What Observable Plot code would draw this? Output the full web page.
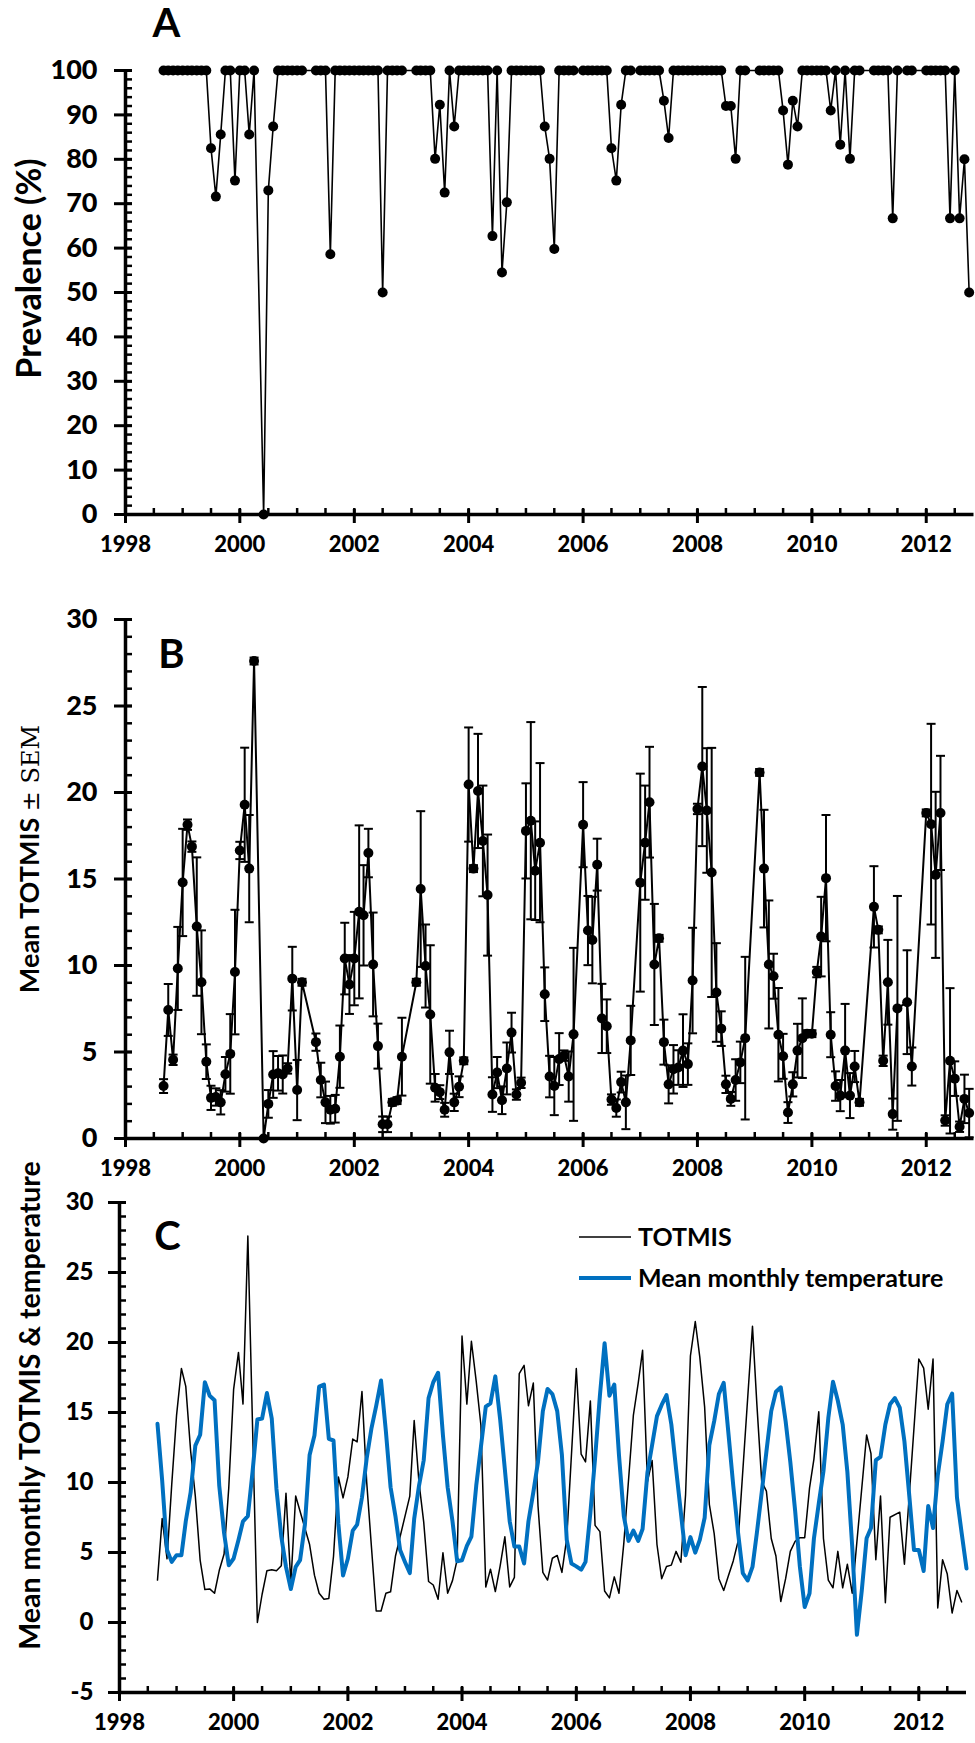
<!DOCTYPE html>
<html>
<head>
<meta charset="utf-8">
<script src="https://cdn.jsdelivr.net/npm/d3@7"></script>
<script src="https://cdn.jsdelivr.net/npm/@observablehq/plot@0.6"></script>
<style>
  body { margin: 0; background: #fff; }
  #figure { position: relative; width: 975px; height: 1743px; font-family: Lato, sans-serif; }
  #figure > svg { position: absolute; left: 0; }
</style>
</head>
<body>
<div id="figure"></div>
<script>
// Sampling months, listed as runs of consecutive months (first, last)
const samplingRuns = [
  ["1998-09", "2000-04"], ["2000-06", "2001-02"], ["2001-05", "2002-11"],
  ["2003-02", "2005-11"], ["2006-01", "2006-11"], ["2007-01", "2008-11"],
  ["2009-02", "2010-11"], ["2011-02", "2011-07"], ["2011-09", "2011-10"],
  ["2012-01", "2012-10"]
];

// Prevalence (%) for each sampling month
const prevalence = [
  100, 100, 100, 100, 100, 100, 100, 100, 100, 100, 82.5, 71.6, 85.6, 100, 100, 75.2, 100, 100, 85.6, 100,
  0, 73, 87.4, 100, 100, 100, 100, 100, 100,
  100, 100, 100, 58.6, 100, 100, 100, 100, 100, 100, 100, 100, 100, 100, 50, 100, 100, 100, 100,
  100, 100, 100, 100, 80.1, 92.3, 72.5, 100, 87.4, 100, 100, 100, 100, 100, 100, 100, 62.7, 100, 54.5, 70.3,
  100, 100, 100, 100, 100, 100, 100, 87.4, 80.1, 59.8, 100, 100, 100, 100,
  100, 100, 100, 100, 100, 100, 82.5, 75.2, 92.3, 100, 100,
  100, 100, 100, 100, 100, 93.2, 84.8, 100, 100, 100, 100, 100, 100, 100, 100, 100, 100, 100, 92, 92, 80.1, 100, 100,
  100, 100, 100, 100, 100, 91, 78.8, 93.2, 87.4, 100, 100, 100, 100, 100, 100, 91, 100, 83.3, 100, 80.1, 100, 100,
  100, 100, 100, 100, 66.7, 100,
  100, 100,
  100, 100, 100, 100, 100, 66.7, 100, 66.7, 80, 50
];

// Mean TOTMIS for each sampling month
const totmis = [
  3.03, 7.43, 4.55, 9.83, 14.8, 18.14, 16.87, 12.25, 9.03, 4.44, 2.35, 2.4, 2.09, 3.71, 4.89, 9.62, 16.65, 19.29, 15.6, 27.6,
  0, 2.0, 3.7, 3.77, 3.7, 4.05, 9.24, 2.8, 9.03,
  5.57, 3.38, 2.09, 1.66, 1.72, 4.73, 10.4, 8.9, 10.4, 13.1, 12.9, 16.5, 10.06, 5.34, 0.82, 0.82, 2.09, 2.19, 4.73,
  9.03, 14.42, 9.97, 7.17, 2.93, 2.68, 1.66, 4.98, 2.09, 2.99, 4.49, 20.46, 15.6, 20.09, 17.2, 14.07, 2.54, 3.81, 2.21, 4.05,
  6.12, 2.54, 3.22, 17.78, 18.37, 15.48, 17.1, 8.34, 3.58, 3.03, 4.59, 4.79, 3.58, 6.02,
  18.14, 12.02, 11.47, 15.83, 6.94, 6.49, 2.25, 1.76, 3.26, 2.09, 5.67,
  14.79, 17.1, 19.44, 10.06, 11.57, 5.57, 3.13, 4.0, 4.1, 5.08, 4.3, 9.13, 19.05, 21.5, 18.96, 15.38, 8.44, 6.35, 3.13, 2.29, 3.38, 4.4, 5.8,
  21.16, 15.6, 10.06, 9.38, 6.0, 4.75, 1.5, 3.13, 5.08, 5.8, 6.06, 6.06, 9.62, 11.67, 15.05, 6.0, 3.03, 2.48, 5.08, 2.48, 4.16, 2.09,
  13.39, 12.06, 4.49, 9.03, 1.41, 7.52,
  7.88, 4.16,
  18.82, 18.17, 15.24, 18.82, 1.04, 4.49, 3.46, 0.68, 2.29, 1.47
];

// Standard error of the mean TOTMIS
const totmisSem = [
  0.4, 1.5, 0.3, 2.4, 3.1, 0.3, 0.3, 4.0, 3.0, 1.0, 0.7, 0.5, 0.7, 1.0, 2.3, 3.6, 0.5, 3.3, 3.1, 0.2,
  0, 0.8, 1.35, 1.0, 1.1, 0.3, 1.84, 1.74, 0.2,
  0.5, 1.0, 1.2, 0.8, 0.8, 1.8, 2.07, 1.7, 2.7, 5.0, 2.9, 1.4, 3.0, 1.3, 0.45, 0.45, 0.2, 0.2, 2.25,
  0.2, 4.5, 2.4, 4.0, 0.8, 0.4, 0.4, 1.25, 0.5, 0.6, 0.2, 3.3, 0.2, 3.3, 3.2, 3.5, 1.0, 0.9, 0.8, 1.5,
  1.15, 0.3, 0.3, 2.75, 5.7, 2.85, 4.6, 1.55, 1.2, 1.68, 1.5, 0.3, 1.45, 5.0,
  2.46, 2.0, 2.5, 1.5, 2.0, 1.55, 0.3, 0.5, 0.6, 1.55, 2.0,
  6.3, 3.3, 3.2, 3.5, 0.2, 1.3, 1.1, 1.4, 1.0, 2.1, 1.2, 3.05, 0.3, 4.6, 3.6, 7.2, 2.85, 1.0, 0.5, 0.4, 1.2, 1.2, 4.7,
  0.2, 3.4, 3.7, 1.3, 2.7, 1.3, 0.6, 0.7, 1.55, 2.3, 0.2, 0.2, 0.3, 2.3, 3.65, 1.3, 0.85, 0.9, 2.7, 1.3, 0.9, 0.2,
  2.35, 0.2, 0.3, 2.45, 0.9, 6.5,
  3.0, 1.1,
  0.2, 5.8, 4.8, 3.3, 0.3, 4.2, 1.0, 0.3, 1.4, 1.4
];

// Mean monthly temperature (°C), every month from the first to the last listed
const temperatureMonths = ["1998-09", "2012-11"];
const temperature = [
  14.19, 10.14, 5.18, 4.33, 4.81, 4.81, 7.23, 9.29, 12.63, 13.41,
  17.16, 16.2, 15.88, 9.78, 6.39, 4.09, 4.57, 5.9, 7.23, 7.6,
  10.75, 14.5, 14.57, 16.39, 14.57, 9.54, 6.14, 3.97, 2.39, 3.97,
  4.45, 6.99, 11.96, 13.36, 16.85, 17.0, 13.12, 13.0, 7.06, 3.36,
  4.57, 6.56, 6.99, 8.93, 11.71, 13.89, 15.47, 17.28, 13.65, 9.66,
  7.6, 5.18, 4.33, 3.53, 7.4, 9.78, 11.59, 16.03, 17.16, 17.84,
  13.36, 9.66, 7.23, 4.38, 4.45, 5.47, 6.14, 9.78, 12.56, 15.42,
  15.66, 17.58, 14.5, 10.94, 7.23, 5.42, 5.42, 4.21, 7.23, 9.29,
  11.47, 15.1, 16.68, 16.32, 15.1, 11.96, 5.9, 4.21, 4.01, 3.77,
  4.33, 7.84, 11.71, 16.2, 19.95, 16.2, 17.0, 11.96, 7.6, 5.83,
  6.56, 5.83, 6.68, 10.7, 12.68, 14.74, 15.54, 16.24, 14.14, 11.0,
  7.84, 4.81, 6.1, 4.99, 5.9, 7.48, 12.68, 14.38, 16.32, 17.12,
  13.41, 9.78, 6.39, 3.53, 3.0, 3.97, 6.39, 9.29, 12.2, 15.1,
  16.48, 16.8, 14.38, 11.47, 7.96, 4.0, 1.11, 2.08, 6.0, 8.5,
  10.8, 14.6, 17.2, 15.84, 14.14, 10.75, 5.42, -0.88, 2.27, 6.02,
  6.75, 11.59, 11.83, 14.14, 15.59, 16.03, 15.35, 12.93, 9.05, 5.18,
  5.18, 3.68, 8.32, 6.75, 10.5, 12.93, 15.59, 16.36, 8.93, 6.39, 3.85
];

// Axis tick values
const xStart = "1998-01", xEnd = "2012-11";
const prevalenceTicks = [0, 10, 20, 30, 40, 50, 60, 70, 80, 90, 100];
const totmisTicks = [0, 5, 10, 15, 20, 25, 30];
const combinedTicks = [-5, 0, 5, 10, 15, 20, 25, 30];

const parseMonth = d3.utcParse("%Y-%m");
const monthsBetween = (a, b) => d3.utcMonth.range(parseMonth(a), d3.utcMonth.offset(parseMonth(b), 1));

const sampleDates = samplingRuns.flatMap(([a, b]) => monthsBetween(a, b));
const samples = sampleDates.map((date, i) => ({
  date, prevalence: prevalence[i], totmis: totmis[i], sem: totmisSem[i]
}));
const temps = monthsBetween(...temperatureMonths).map((date, i) => ({date, temperature: temperature[i]}));

const xDomain = [parseMonth(xStart), parseMonth(xEnd)];
const evenYears = d3.utcYear.every(2).range(xDomain[0], xDomain[1]);
const halfYears = d3.utcMonth.every(6).range(xDomain[0], xDomain[1]);
const range = (lo, hi, step) => d3.range(lo, hi + step / 2, step);

// A short horizontal stroke used as error-bar caps
const capSymbol = {
  draw(context, size) {
    const r = Math.sqrt(size / Math.PI);
    context.moveTo(-r, 0);
    context.lineTo(r, 0);
  }
};

// Excel-style frame: thick axis lines, crossing major ticks, inner minor ticks
function frame({yMin, yMajor, yMinor, yPad, yFont}) {
  return [
    Plot.axisX(halfYears, {tickSize: -6, strokeWidth: 2.5, tickFormat: () => "", label: null}),
    Plot.axisX(evenYears, {tickSize: -5, strokeWidth: 3, tickFormat: () => "", label: null}),
    Plot.axisX(evenYears, {tickSize: 9, tickPadding: 13, strokeWidth: 3, tickFormat: "%Y", label: null,
      fontSize: 22, fontWeight: 900}),
    Plot.axisY(yMinor, {tickSize: -7, strokeWidth: 2.5, tickFormat: () => "", label: null}),
    Plot.axisY(yMajor, {tickSize: -7, strokeWidth: 3, tickFormat: () => "", label: null}),
    Plot.axisY(yMajor, {tickSize: 11, tickPadding: yPad, strokeWidth: 3, tickFormat: d => String(d), label: null,
      fontSize: yFont, fontWeight: 900}),
    Plot.ruleY([yMin], {strokeWidth: 3.5}),
    Plot.ruleX([xDomain[0]], {strokeWidth: 3.5})
  ];
}

const baseStyle = {fontFamily: "Lato, sans-serif", color: "black", background: "white", overflow: "visible"};
const figure = document.getElementById("figure");

// Panel A: prevalence
const chartA = Plot.plot({
  width: 975, height: 575,
  marginLeft: 125, marginRight: 1.5, marginTop: 70, marginBottom: 61,
  x: {type: "utc", domain: xDomain, label: null},
  y: {domain: [0, 100], label: null},
  style: baseStyle,
  marks: [
    ...frame({yMin: 0, yMajor: prevalenceTicks, yMinor: range(0, 100, 2), yPad: 17, yFont: 27}),
    Plot.line(samples, {x: "date", y: "prevalence", stroke: "black", strokeWidth: 1.6}),
    Plot.dot(samples, {x: "date", y: "prevalence", r: 5, fill: "black"}),
    Plot.text(["Prevalence (%)"], {frameAnchor: "left", rotate: -90, dx: -95, dy: -24,
      fontSize: 34, fontWeight: 700, textAnchor: "middle"}),
    Plot.text(["A"], {frameAnchor: "top-left", dx: 41, dy: -46, fontSize: 40, fontWeight: 700,
      textAnchor: "middle", lineAnchor: "middle"})
  ]
});
chartA.style.top = "0px";
figure.append(chartA);

// Panel B: mean TOTMIS with SEM error bars
const chartB = Plot.plot({
  width: 975, height: 610,
  marginLeft: 125, marginRight: 1.5, marginTop: 44, marginBottom: 47,
  x: {type: "utc", domain: xDomain, label: null},
  y: {domain: [0, 30], label: null},
  style: baseStyle,
  marks: [
    ...frame({yMin: 0, yMajor: totmisTicks, yMinor: range(0, 30, 1), yPad: 17, yFont: 27}),
    Plot.line(samples, {x: "date", y: "totmis", stroke: "black", strokeWidth: 2}),
    Plot.ruleX(samples, {x: "date", y1: d => Math.max(0, d.totmis - d.sem), y2: d => d.totmis + d.sem,
      stroke: "black", strokeWidth: 2}),
    Plot.dot(samples, {x: "date", y: d => d.totmis + d.sem, symbol: capSymbol, r: 4.5,
      stroke: "black", strokeWidth: 2, fill: "none"}),
    Plot.dot(samples, {x: "date", y: d => Math.max(0, d.totmis - d.sem), symbol: capSymbol, r: 4.5,
      stroke: "black", strokeWidth: 2, fill: "none"}),
    Plot.dot(samples, {x: "date", y: "totmis", r: 5, fill: "black"}),
    Plot.text(["Mean TOTMIS ± SEM"], {frameAnchor: "left", rotate: -90, dx: -95, dy: -20,
      fontSize: 27, fontWeight: 700, textAnchor: "middle"}),
    Plot.text(["B"], {frameAnchor: "top-left", dx: 46, dy: 36, fontSize: 40, fontWeight: 700,
      textAnchor: "middle", lineAnchor: "middle"})
  ]
});
chartB.style.top = "575px";
figure.append(chartB);

// Set "± SEM" of the axis title in a serif face
d3.select(chartB).selectAll("text")
  .filter(function () { return this.textContent === "Mean TOTMIS ± SEM"; })
  .each(function () {
    const t = d3.select(this);
    t.text("");
    t.append("tspan")
      .style("font-family", "Lato, sans-serif").style("font-weight", "700").style("font-size", "27px")
      .text("Mean TOTMIS ");
    t.append("tspan")
      .style("font-family", "'DejaVu Serif', serif").style("font-weight", "400").style("font-size", "24px")
      .text("± SEM");
  });

// Panel C: TOTMIS and mean monthly temperature
const chartC = Plot.plot({
  width: 975, height: 558,
  marginLeft: 119, marginRight: 9, marginTop: 17, marginBottom: 51,
  x: {type: "utc", domain: xDomain, label: null},
  y: {domain: [-5, 30], label: null},
  style: baseStyle,
  marks: [
    ...frame({yMin: -5, yMajor: combinedTicks, yMinor: range(-5, 30, 1), yPad: 15, yFont: 24}),
    Plot.line(samples, {x: "date", y: "totmis", stroke: "black", strokeWidth: 1.5}),
    Plot.line(temps, {x: "date", y: "temperature", stroke: "#0070c0", strokeWidth: 4}),
    Plot.text(["Mean monthly TOTMIS & temperature"], {frameAnchor: "left", rotate: -90, dx: -89, dy: -42,
      fontSize: 28.5, fontWeight: 700, textAnchor: "middle"}),
    Plot.text(["C"], {frameAnchor: "top-left", dx: 48, dy: 35, fontSize: 40, fontWeight: 700,
      textAnchor: "middle", lineAnchor: "middle"})
  ]
});
chartC.style.top = "1185px";
figure.append(chartC);

// Legend for panel C
const legendItems = [
  {label: "TOTMIS", color: "black", width: 1.5, y: 52},
  {label: "Mean monthly temperature", color: "#0070c0", width: 4, y: 93}
];
const legend = d3.select(chartC).append("g").attr("class", "legend").attr("text-anchor", "start");
legend.selectAll("line").data(legendItems).join("line")
  .attr("x1", 579).attr("x2", 631).attr("y1", d => d.y).attr("y2", d => d.y)
  .attr("stroke", d => d.color).attr("stroke-width", d => d.width);
legend.selectAll("text").data(legendItems).join("text")
  .attr("x", 638).attr("y", d => d.y).attr("dy", "0.35em")
  .attr("text-anchor", "start")
  .attr("font-family", "Lato, sans-serif").attr("font-weight", 700).attr("font-size", 25)
  .attr("fill", "black").text(d => d.label);
</script>
</body>
</html>
